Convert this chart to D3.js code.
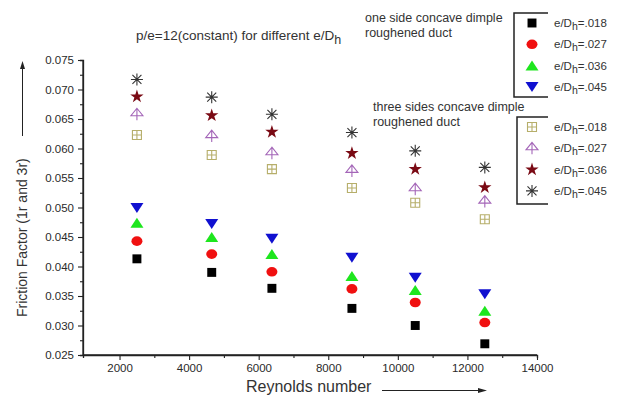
<!DOCTYPE html>
<html>
<head>
<meta charset="utf-8">
<script src="https://cdn.jsdelivr.net/npm/d3@7"></script>
<style>
body{margin:0;background:#fff}
text{font-family:"Liberation Sans",Arial,sans-serif;fill:#333}
</style>
</head>
<body>
<div id="graphHolder"></div>
<script>
// Reynolds numbers (x)
const reynolds = [2500, 4650, 6380, 8680, 10500, 12500]
// one side concave dimple roughened duct
const one018 = [0.0413, 0.0390, 0.0363, 0.0329, 0.0300, 0.0269]
const one027 = [0.0443, 0.0421, 0.0391, 0.0362, 0.0339, 0.0305]
const one036 = [0.0474, 0.0450, 0.0421, 0.0384, 0.0360, 0.0325]
const one045 = [0.0499, 0.0472, 0.0447, 0.0415, 0.0381, 0.0353]
// three sides concave dimple roughened duct
const three018 = [0.0623, 0.0589, 0.0565, 0.0533, 0.0508, 0.0480]
const three027 = [0.0658, 0.0621, 0.0592, 0.0562, 0.0531, 0.0510]
const three036 = [0.0688, 0.0656, 0.0628, 0.0592, 0.0565, 0.0534]
const three045 = [0.0717, 0.0687, 0.0658, 0.0627, 0.0596, 0.0568]
const legendLabels = ['.018', '.027', '.036', '.045']
const xTicks = [2000, 4000, 6000, 8000, 10000, 12000, 14000]
const yTicks = [0.025, 0.030, 0.035, 0.040, 0.045, 0.050, 0.055, 0.060, 0.065, 0.070, 0.075]

const width = 627, height = 396
const svg = d3.select('#graphHolder').append('svg')
	.attr('width', width).attr('height', height)

const x = d3.scaleLinear().domain([950, 14000]).range([83, 537])
const y = d3.scaleLinear().domain([0.025, 0.075]).range([355, 60])

//symbol makers
const sym = {
	square: () => d3.symbol(d3.symbolSquare, 80)(),
	circle: () => 'M-5.5,0a5.5,4.8 0 1,0 11,0a5.5,4.8 0 1,0 -11,0Z',
	up: () => 'M0,-5L6.5,5L-6.5,5Z',
	down: () => 'M0,5L6.5,-5L-6.5,-5Z',
	boxplus: () => 'M-4.5,-4.5H4.5V4.5H-4.5Z M0,-4.5V4.5 M-4.5,0H4.5',
	hat: () => 'M0,-6L-6,1.5H6Z M0,-6V6 M-6,1.5H6',
	star: () => d3.symbol(d3.symbolStar, 55)(),
	asterisk: () => 'M0,-6V6 M-6,0H6 M-4.5,-4.5L4.5,4.5 M-4.5,4.5L4.5,-4.5'
}

const series = [
	{data: one018, shape: 'square', color: '#000', fill: true},
	{data: one027, shape: 'circle', color: '#f01010', fill: true},
	{data: one036, shape: 'up', color: '#1ee61e', fill: true},
	{data: one045, shape: 'down', color: '#1010d0', fill: true},
	{data: three018, shape: 'boxplus', color: '#b6ae6a', fill: false},
	{data: three027, shape: 'hat', color: '#a466b8', fill: false},
	{data: three036, shape: 'star', color: '#7a0a14', fill: true},
	{data: three045, shape: 'asterisk', color: '#333', fill: false}
]

function styleSym(sel, s){
	sel.attr('d', sym[s.shape]())
		.attr('fill', s.fill ? s.color : 'none')
		.attr('stroke', s.fill ? 'none' : s.color)
		.attr('stroke-width', 1.1)
}

// axes
const xAxis = svg.append('g').attr('transform', 'translate(0,355)')
	.call(d3.axisBottom(x).tickValues(xTicks).tickSize(5).tickPadding(4).tickFormat(d3.format('d')))
const yAxis = svg.append('g').attr('transform', 'translate(83,0)')
	.call(d3.axisLeft(y).tickValues(yTicks).tickSize(5).tickPadding(4).tickFormat(d3.format('.3f')))
// minor ticks
svg.append('g').attr('transform', 'translate(0,355)')
	.call(d3.axisBottom(x).tickValues(d3.range(3000, 14000, 2000)).tickSize(3).tickFormat(''))
svg.append('g').attr('transform', 'translate(83,0)')
	.call(d3.axisLeft(y).tickValues(d3.range(0.0275, 0.075, 0.005)).tickSize(3).tickFormat(''))
svg.selectAll('.domain').attr('stroke', '#222').attr('stroke-width', 1.3)
xAxis.select('.domain').attr('d', 'M83,0H537')
yAxis.select('.domain').attr('d', 'M0,355V60')
svg.selectAll('.tick line').attr('stroke', '#222').attr('stroke-width', 1.1)
svg.selectAll('.tick text').style('font-size', '11.5px').style('fill', '#2a2a2a')
	.style('font-family', '"Liberation Sans",Arial,sans-serif')

// points
series.forEach(s => {
	svg.append('g').selectAll('path').data(s.data).enter().append('path')
		.attr('transform', (d, i) => `translate(${x(reynolds[i])},${y(d)})`)
		.call(styleSym, s)
})

// title
const title = svg.append('text').attr('x', 136).attr('y', 40).style('font-size', '13.5px')
title.append('tspan').text('p/e=12(constant) for different e/D')
title.append('tspan').attr('dy', 4).style('font-size', '12.5px').text('h')

// axis labels
svg.append('text').attr('x', 246).attr('y', 392).style('font-size', '16px').text('Reynolds number')
svg.append('line').attr('x1', 382).attr('x2', 482).attr('y1', 390.5).attr('y2', 390.5)
	.attr('stroke', '#222').attr('stroke-width', 1)
svg.append('path').attr('d', 'M487,390.5L478,388L478,393Z').attr('fill', '#222')

svg.append('text').attr('transform', 'translate(27,317) rotate(-90)').style('font-size', '14px')
	.text('Friction Factor (1r and 3r)')
svg.append('line').attr('x1', 22.5).attr('x2', 22.5).attr('y1', 136).attr('y2', 66)
	.attr('stroke', '#222').attr('stroke-width', 1)
svg.append('path').attr('d', 'M22.5,61L20,69L25,69Z').attr('fill', '#222')

// legends
function legend(top, left, h, heading, items){
	heading.forEach(t => {
		svg.append('text').attr('x', t.x).attr('y', t.y).style('font-size', '12.5px').text(t.text)
	})
	svg.append('path').attr('d', `M548,${top}H${left}V${top + h}H548`)
		.attr('fill', 'none').attr('stroke', '#222').attr('stroke-width', 1.5)
	items.forEach((s, i) => {
		const cy = top + 10 + i * 21.3
		svg.append('path').attr('transform', `translate(532,${cy})`).call(styleSym, s)
		const t = svg.append('text').attr('x', 554).attr('y', cy + 4).style('font-size', '11.5px')
		t.append('tspan').text('e/D')
		t.append('tspan').attr('dy', 3).style('font-size', '10.5px').text('h')
		t.append('tspan').attr('dy', -3).text('=' + legendLabels[i])
	})
}
legend(13, 514, 84, [
	{x: 365, y: 22, text: 'one side concave dimple'},
	{x: 365, y: 37, text: 'roughened duct'}
], series.slice(0, 4))
legend(117, 517, 87, [
	{x: 373, y: 111, text: 'three sides concave dimple'},
	{x: 373, y: 126, text: 'roughened duct'}
], series.slice(4))
</script>
</body>
</html>
